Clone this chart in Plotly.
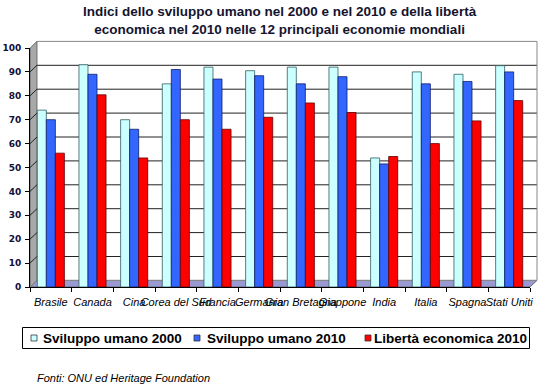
import plotly.graph_objects as go

paesi = ["Brasile", "Canada", "Cina", "Corea del Sud", "Francia", "Germania",
         "Gran Bretagna", "Giappone", "India", "Italia", "Spagna", "Stati Uniti"]
sviluppo_2000 = [74, 93, 70, 85, 92, 90.5, 92, 92, 54, 90, 89, 92.6]
sviluppo_2010 = [70, 89, 66, 91, 87, 88.4, 85, 88, 51.5, 85, 86, 90]
liberta_2010 = [56, 80.4, 54, 70, 66, 71, 77, 73, 54.6, 60, 69.5, 78]
y_ticks = list(range(0, 101, 10))

serie = [
    ("Sviluppo umano 2000", sviluppo_2000, "#ccffff", "#2f5f5f"),
    ("Sviluppo umano 2010", sviluppo_2010, "#3366ff", "#10206a"),
    ("Libertà economica 2010", liberta_2010, "#ff0000", "#600000"),
]

W, H = 540, 385
L, R, T, B = 30, 10, 48, 98
pw, ph = W - L - R, H - T - B
DX = 7 / pw      # depth offset in paper units (x)
DY = 6.6 / ph    # depth offset in paper units (y)

fig = go.Figure()
for nome, vals, col, line in serie:
    fig.add_trace(go.Bar(
        x=paesi, y=vals, name=nome, showlegend=False,
        marker=dict(color=col, line=dict(color=line, width=0.8)),
    ))

shapes = []
# side wall
shapes.append(dict(type="path", xref="paper", yref="paper", layer="below",
                   path=f"M 0 0 L 0 1 L {DX} {1+DY} L {DX} {DY} Z",
                   fillcolor="#a8a8a8", line=dict(color="#555555", width=0.8)))
# floor
shapes.append(dict(type="path", xref="paper", yref="paper", layer="below",
                   path=f"M 0 0 L 1 0 L {1+DX} {DY} L {DX} {DY} Z",
                   fillcolor="#9a9ad2", line=dict(color="#555555", width=0.8)))
# back wall gridlines
for v in y_ticks:
    yp = v / 100
    col = "#888888" if v in (0, 100) else "#222222"
    shapes.append(dict(type="path", xref="paper", yref="paper", layer="below",
                       path=f"M 0 {yp} L {DX} {yp+DY} L {1+DX} {yp+DY}",
                       line=dict(color=col, width=1)))
# back wall right edge
shapes.append(dict(type="line", xref="paper", yref="paper", layer="below",
                   x0=1 + DX, x1=1 + DX, y0=DY, y1=1 + DY,
                   line=dict(color="#888888", width=1)))

# legend (manual)
def px_x(px):
    return (px - L) / pw

def px_y(py):
    return (H - B - py) / ph

shapes.append(dict(type="rect", xref="paper", yref="paper",
                   x0=px_x(22.5), x1=px_x(529.5), y0=px_y(348.5), y1=px_y(327.5),
                   line=dict(color="#000000", width=1), fillcolor="white"))
leg_sq = [31, 194, 365]
leg_tx = [41, 205, 372]
annotations = []
for (nome, vals, col, line), sx, tx in zip(serie, leg_sq, leg_tx):
    shapes.append(dict(type="rect", xref="paper", yref="paper",
                       x0=px_x(sx), x1=px_x(sx + 6), y0=px_y(341), y1=px_y(335),
                       fillcolor=col, line=dict(color="#333333", width=0.8)))
    annotations.append(dict(xref="paper", yref="paper", x=px_x(tx), y=px_y(338),
                            text=nome, showarrow=False, xanchor="left", yanchor="middle",
                            font=dict(family="Arial, Liberation Sans", size=13.5,
                                      color="#000000", weight="bold")))

annotations.append(dict(xref="paper", yref="paper", x=px_x(35), y=px_y(378),
                        text="<i>Fonti: ONU ed Heritage Foundation</i>", showarrow=False,
                        xanchor="left", yanchor="middle",
                        font=dict(family="Arial, Liberation Sans", size=11, color="#000000")))

# title as annotation for exact placement
annotations.append(dict(xref="paper", yref="paper", x=px_x(280), y=px_y(2),
                        text="Indici dello sviluppo umano nel 2000 e nel 2010 e della libertà<br>"
                             "economica nel 2010 nelle 12 principali economie mondiali",
                        showarrow=False, xanchor="center", yanchor="top", align="center",
                        font=dict(family="Arial, Liberation Sans", size=13.5, color="#14142e",
                                  weight="bold")))

fig.update_layout(
    width=W, height=H,
    margin=dict(l=L, r=R, t=T, b=B, autoexpand=False),
    paper_bgcolor="white", plot_bgcolor="rgba(0,0,0,0)",
    barmode="group", bargap=0.35, bargroupgap=0,
    shapes=shapes, annotations=annotations,
    xaxis=dict(showgrid=False, tickson="boundaries", ticks="outside", ticklen=4,
               tickcolor="#000000", showline=True, linecolor="#000000", linewidth=1,
               tickangle=0, ticklabelstandoff=5, automargin=False,
               tickfont=dict(family="Arial, Liberation Sans", size=11, color="#000000",
                             style="italic")),
    yaxis=dict(range=[0, 100], tickvals=y_ticks, showgrid=False, zeroline=False,
               ticks="outside", ticklen=4, tickcolor="#000000", showline=True,
               linecolor="#000000", linewidth=1, ticklabelstandoff=2, automargin=False,
               tickfont=dict(family="DejaVu Sans", size=9, color="#10103a", weight="bold")),
)

fig.write_html("out.html", config={"displayModeBar": False},
               post_script="document.body.style.margin='0';document.body.style.overflow='hidden';")
